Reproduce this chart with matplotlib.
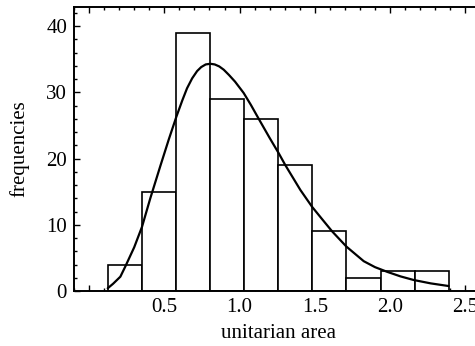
import matplotlib
matplotlib.use("Agg")
import matplotlib.pyplot as plt
from matplotlib.ticker import MultipleLocator, FixedLocator, FixedFormatter

# Histogram data
bin_edges = [0.124, 0.350, 0.577, 0.804, 1.030, 1.257, 1.484, 1.710, 1.937, 2.164, 2.390]
frequencies = [4, 15, 39, 29, 26, 19, 9, 2, 3, 3]

# Fitted curve points
curve_x = [0.124, 0.16, 0.208, 0.241, 0.30, 0.352, 0.407, 0.474, 0.530, 0.580, 0.620, 0.651,
           0.685, 0.718, 0.745, 0.775, 0.806, 0.835, 0.865, 0.895, 0.930, 0.970, 1.027,
           1.075, 1.127, 1.200, 1.260, 1.304, 1.404, 1.482, 1.550, 1.615, 1.710, 1.825,
           1.900, 1.980, 2.070, 2.157, 2.270, 2.389]
curve_y = [0.41, 1.1, 2.16, 3.7, 6.6, 9.7, 14.0, 18.9, 22.9, 26.3, 28.8, 30.6,
           32.1, 33.2, 33.8, 34.2, 34.3, 34.2, 33.9, 33.4, 32.6, 31.6, 29.9,
           28.1, 26.0, 23.1, 20.8, 19.0, 15.25, 12.7, 10.8, 9.0, 6.7, 4.5,
           3.6, 2.9, 2.2, 1.66, 1.15, 0.75]

x_ticks = [0.0, 0.5, 1.0, 1.5, 2.0, 2.5]
x_labels = ["", "0.5", "1.0", "1.5", "2.0", "2.5"]
y_ticks = [0, 10, 20, 30, 40]

plt.rcParams['font.family'] = ['Liberation Serif', 'DejaVu Serif']

fig = plt.figure(figsize=(4.75, 3.46), dpi=100)
ax = fig.add_axes([74 / 475, 55 / 346, 409.4 / 475, 284 / 346])

widths = [bin_edges[i + 1] - bin_edges[i] for i in range(len(frequencies))]
ax.bar(bin_edges[:-1], frequencies, width=widths, align='edge',
       facecolor='white', edgecolor='black', linewidth=1.2, zorder=2)
ax.plot(curve_x, curve_y, color='black', linewidth=1.6, zorder=3,
        solid_joinstyle='round', solid_capstyle='round')

ax.set_xlim(-0.1, 2.62)
ax.set_ylim(0, 42.87)

ax.xaxis.set_major_locator(FixedLocator(x_ticks))
ax.xaxis.set_major_formatter(FixedFormatter(x_labels))
ax.xaxis.set_minor_locator(MultipleLocator(0.1))
ax.yaxis.set_major_locator(FixedLocator(y_ticks))
ax.yaxis.set_minor_locator(MultipleLocator(2))

ax.tick_params(which='both', direction='in', top=True, right=True, labelsize=15, width=1.0)
ax.tick_params(which='major', length=4, pad=5)
ax.tick_params(which='minor', length=2)
for s in ax.spines.values():
    s.set_linewidth(1.4)

ax.set_xlabel('unitarian area', fontsize=15, labelpad=5)
ax.set_ylabel('frequencies', fontsize=15, labelpad=12)

fig.savefig('out.png', dpi=100)
